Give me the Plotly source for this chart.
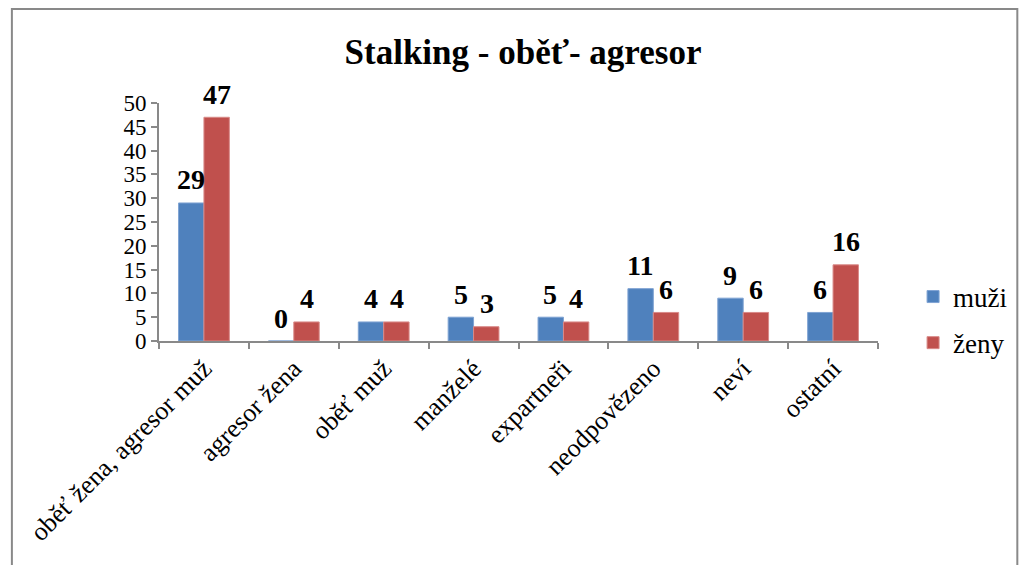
import plotly.graph_objects as go

# Stalking survey: relationship between victim and aggressor, by respondent sex
categories = [
    "oběť žena, agresor muž",
    "agresor žena",
    "oběť muž",
    "manželé",
    "expartneři",
    "neodpovězeno",
    "neví",
    "ostatní",
]
muzi = [29, 0, 4, 5, 5, 11, 9, 6]
zeny = [47, 4, 4, 3, 4, 6, 6, 16]
y_ticks = [0, 5, 10, 15, 20, 25, 30, 35, 40, 45, 50]

SERIF = "Liberation Serif, Times New Roman, serif"
AXIS_GRAY = "#898989"
LABEL_FONT = dict(family=SERIF, size=28, color="black", weight="bold")

# plot area: x 159..897 px, y 103..341 px
L, R, T, B = 159, 1024 - 897, 103, 565 - 341
pw, ph = 1024 - L - R, 565 - T - B
BARGAP = 0.435
half_bar_px = (pw / len(categories)) * (1 - BARGAP) / 4

fig = go.Figure()
series = [
    ("muži", muzi, "#4F81BD", "#7FA3D3", -1),
    ("ženy", zeny, "#C0504D", "#D98A88", +1),
]
for name, vals, color, edge, side in series:
    fig.add_trace(go.Bar(
        name=name, x=categories, y=vals,
        marker=dict(color=color, line=dict(color=edge, width=1)),
        legendgroup=name,
    ))
    # value labels above each bar
    for cat, v in zip(categories, vals):
        fig.add_annotation(
            x=cat, y=v, xref="x", yref="y",
            text=f"<b>{v}</b>", showarrow=False,
            font=LABEL_FONT,
            xanchor="center", yanchor="middle",
            xshift=side * half_bar_px, yshift=23,
        )

fig.update_layout(
    width=1024, height=565,
    margin=dict(l=L, r=R, t=T, b=B, pad=0),
    paper_bgcolor="white", plot_bgcolor="white",
    barmode="group", bargap=BARGAP, bargroupgap=0,
    font=dict(family=SERIF, color="black"),
    title=dict(
        text="<b>Stalking - oběť- agresor</b>",
        font=dict(family=SERIF, size=35, color="black"),
        x=523 / 1024, xanchor="center", y=1 - 52 / 565, yanchor="middle",
    ),
    legend=dict(
        x=(933 - L) / pw, xanchor="left",
        y=(341 - 320) / ph, yanchor="middle",
        font=dict(family=SERIF, size=27, color="black"),
        tracegroupgap=8, itemwidth=30,
        bgcolor="rgba(0,0,0,0)",
    ),
    showlegend=True,
)

fig.update_xaxes(
    type="category", tickson="boundaries",
    showline=True, linecolor=AXIS_GRAY, linewidth=2,
    ticks="outside", ticklen=6, tickcolor=AXIS_GRAY, tickwidth=2,
    tickangle=-45, tickfont=dict(family=SERIF, size=26, color="black"),
    showgrid=False, zeroline=False,
)
fig.update_yaxes(
    range=[0, 50], tickvals=y_ticks,
    showline=True, linecolor=AXIS_GRAY, linewidth=2,
    ticks="outside", ticklen=6, tickcolor=AXIS_GRAY, tickwidth=2,
    tickfont=dict(family=SERIF, size=23, color="black"),
    showgrid=False, zeroline=False,
)

# chart frame (left and top edges visible)
fig.add_shape(
    type="rect", xref="paper", yref="paper",
    x0=(8 - L) / pw, x1=(1040 - L) / pw,
    y0=(341 - 600) / ph, y1=(341 - 9) / ph,
    line=dict(color=AXIS_GRAY, width=2), fillcolor="rgba(0,0,0,0)",
    layer="below",
)

fig.write_html("out.html")
